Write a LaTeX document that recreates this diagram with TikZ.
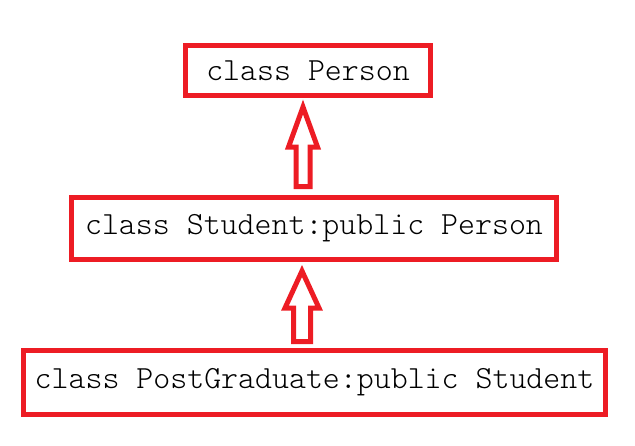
\documentclass[tikz,border=0pt]{standalone}
\usepackage{fontspec}
\newfontfamily\classfont{Latin Modern Mono Light}
\usetikzlibrary{calc}
\definecolor{boxred}{RGB}{237,28,36}
\newcommand\hollowarrow[5]{%
  \draw[blockarrow] let \p1=(#1), \p2=(#2) in
    ({\x1-#5pt},\y1) -- ({\x1-#5pt},{\y2-#3pt}) -- ({\x1-#4pt},{\y2-#3pt}) -- (\x2,\y2)
    -- ({\x1+#4pt},{\y2-#3pt}) -- ({\x1+#5pt},{\y2-#3pt}) -- ({\x1+#5pt},\y1) -- cycle;}
\begin{document}
\begin{tikzpicture}[x=1pt,y=-1pt,
  classbox/.style={draw=boxred,line width=5pt,inner sep=0pt,align=center,
    font=\classfont\fontsize{32.3}{39}\selectfont,text=black},
  blockarrow/.style={draw=boxred,line width=5pt,line join=miter,miter limit=20}]
\useasboundingbox (0,0) rectangle (635,445);
\node[classbox,minimum width=245pt,minimum height=50pt] (b1) at (308,70.5) {class Person};
\node[classbox,minimum width=485pt,minimum height=62pt] (b2) at (314,228.5) {class Student:public Person};
\node[classbox,minimum width=582pt,minimum height=64pt] (b3) at (314.5,382.5) {class PostGraduate:public Student};
\coordinate (a1b) at ($(b2.north)+(-11,-8.5)$);
\coordinate (a1t) at ($(b1.south)+(-5,9)$);
\coordinate (a2b) at ($(b3.north)+(-12.5,-6.5)$);
\coordinate (a2t) at ($(b2.south)+(-12,9)$);
\hollowarrow{a1b}{a1t}{40}{14.5}{7}
\hollowarrow{a2b}{a2t}{37}{17}{8.5}
\end{tikzpicture}
\end{document}
